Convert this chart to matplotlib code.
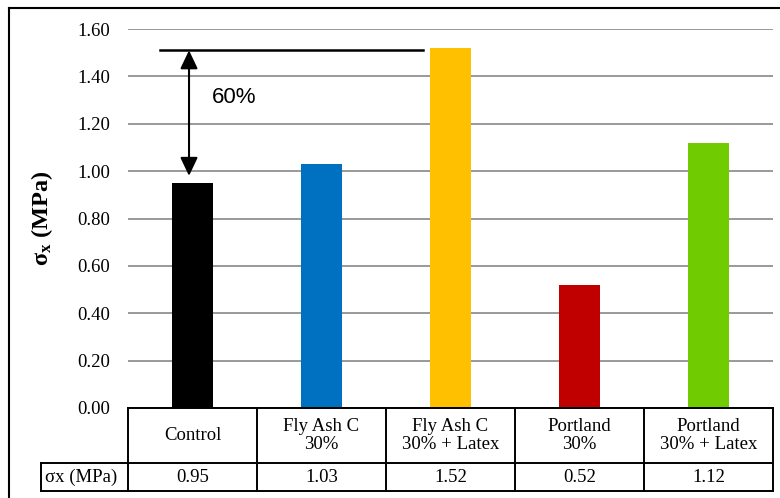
import matplotlib
matplotlib.use("Agg")
import matplotlib.pyplot as plt
from matplotlib.lines import Line2D
import matplotlib.transforms as mtransforms

categories = ["Control", "Fly Ash C\n30%", "Fly Ash C\n30% + Latex", "Portland\n30%", "Portland\n30% + Latex"]
values = [0.95, 1.03, 1.52, 0.52, 1.12]
value_labels = ["0.95", "1.03", "1.52", "0.52", "1.12"]
row_label = "σx (MPa)"
colors = ["#000000", "#0070C0", "#FFC000", "#C00000", "#70CC00"]
yticks = [0.0, 0.2, 0.4, 0.6, 0.8, 1.0, 1.2, 1.4, 1.6]
ref_top = 1.51
ref_bottom = 0.98
pct_text = "60%"

plt.rcParams['mathtext.fontset'] = 'custom'
plt.rcParams['mathtext.rm'] = 'Liberation Serif'
plt.rcParams['mathtext.bf'] = 'Liberation Serif:bold'
plt.rcParams['mathtext.it'] = 'Liberation Serif:italic'

W, H = 780, 498
fig = plt.figure(figsize=(W/100, H/100), dpi=100)
AX_H = 379
ax = fig.add_axes([128/W, 1-408/H, 645/W, AX_H/H])

n = len(categories)
x = list(range(n))
ax.bar(x, values, width=0.32, color=colors, zorder=3)
ax.set_xlim(-0.5, n-0.5)
ax.set_ylim(0, 1.6)
ax.set_yticks(yticks)
ax.set_yticklabels([f"{v:.2f}" for v in yticks], fontfamily="Liberation Serif", fontsize=13.5)
ax.set_xticks([])
ax.tick_params(axis='y', length=0, pad=13)
ax.grid(axis='y', color='#888888', linewidth=1.2, zorder=0)
for s in ax.spines.values():
    s.set_visible(False)

ax.set_ylabel("σ$_\\mathbf{x}$ (MPa)", fontfamily="Liberation Serif", fontsize=17.5,
              fontweight='bold', labelpad=16)

# annotation
ax.plot([-0.252, 1.787], [ref_top, ref_top], color='black', linewidth=1.8, zorder=4, clip_on=False)
ax.annotate("", xy=(-0.027, ref_bottom), xytext=(-0.027, ref_top),
            arrowprops=dict(arrowstyle='<|-|>,head_length=0.4,head_width=0.19', color='black', lw=1.5,
                            mutation_scale=28, shrinkA=0, shrinkB=0), zorder=5)
ax.text(0.151, 1.31, pct_text, fontfamily="Liberation Sans", fontsize=16, va='center', ha='left')

# data table drawn under the axis
tr = mtransforms.blended_transform_factory(ax.transData, ax.transAxes)
y_top = 0.0
y_mid = -55/AX_H
y_bot = -83/AX_H
x_lab = -0.5 - 87/129
lw = 1.4
kw = dict(color='black', linewidth=lw, transform=tr, clip_on=False, zorder=6)
ax.plot([-0.5, n-0.5], [y_top, y_top], **kw)
ax.plot([x_lab, n-0.5], [y_mid, y_mid], **kw)
ax.plot([x_lab, n-0.5], [y_bot, y_bot], **kw)
ax.plot([x_lab, x_lab], [y_mid, y_bot], **kw)
for i in range(n+1):
    ax.plot([i-0.5, i-0.5], [y_top, y_bot], **kw)
for i, cat in enumerate(categories):
    ax.text(i, (y_top+y_mid)/2, cat, transform=tr, ha='center', va='center',
            fontfamily="Liberation Serif", fontsize=13.5, linespacing=1.15)
    ax.text(i, (y_mid+y_bot)/2, value_labels[i], transform=tr, ha='center', va='center',
            fontfamily="Liberation Serif", fontsize=13.5)
ax.text(x_lab + 0.03, (y_mid+y_bot)/2, row_label, transform=tr, ha='left', va='center',
        fontfamily="Liberation Serif", fontsize=13.5)

# outer border
fig.add_artist(Line2D([9/W, 9/W], [0, 1-8/H], color='black', linewidth=1.5, transform=fig.transFigure))
fig.add_artist(Line2D([9/W, 1], [1-8/H, 1-8/H], color='black', linewidth=1.5, transform=fig.transFigure))

fig.savefig("out.png", dpi=100)
